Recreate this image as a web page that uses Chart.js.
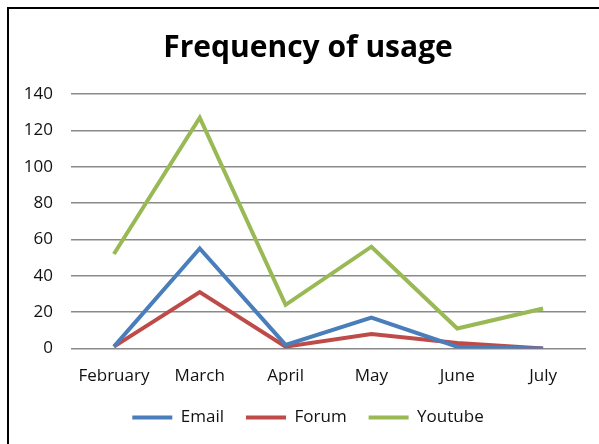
<!DOCTYPE html>
<html>
<head>
<meta charset="utf-8">
<script src="https://cdn.jsdelivr.net/npm/chart.js@4/dist/chart.umd.min.js"></script>
<style>
  html, body { margin: 0; padding: 0; background: #fff; overflow: hidden; }
  #wrap { position: relative; width: 599px; height: 444px; }
  #frame { position: absolute; left: 7px; top: 7px; width: 700px; height: 600px; border: 2px solid #000; box-sizing: border-box; }
  canvas { position: absolute; left: 0; top: 0; }
</style>
</head>
<body>
<div id="wrap">
  <div id="frame"></div>
  <canvas id="c" width="599" height="444"></canvas>
</div>
<script>
const categories = ["February", "March", "April", "May", "June", "July"];
const emailValues = [1, 55, 2, 17, 1, 0];
const forumValues = [1, 31, 1, 8, 3, 0];
const youtubeValues = [52, 127, 24, 56, 11, 22];
const yTicks = [0, 20, 40, 60, 80, 100, 120, 140];

const FONT = "'Open Sans', 'Liberation Sans', sans-serif";

// shift title and legend boxes to the right so they centre like the original
const centerShift = {
  id: 'centerShift',
  afterLayout(chart) {
    const s = 15;
    if (chart.titleBlock) { chart.titleBlock.left += s; chart.titleBlock.right += s; }
    if (chart.legend) { chart.legend.left += s; chart.legend.right += s; chart.legend.adjustHitBoxes(); }
  }
};

new Chart(document.getElementById('c'), {
  type: 'line',
  data: {
    labels: categories,
    datasets: [
      { label: 'Email', data: emailValues, borderColor: '#4A7EBB', backgroundColor: '#4A7EBB' },
      { label: 'Forum', data: forumValues, borderColor: '#BE4B48', backgroundColor: '#BE4B48' },
      { label: 'Youtube', data: youtubeValues, borderColor: '#98B954', backgroundColor: '#98B954' }
    ]
  },
  plugins: [centerShift],
  options: {
    responsive: false,
    animation: false,
    devicePixelRatio: 1,
    layout: { padding: { left: 0, right: 13, top: 0, bottom: 8 } },
    elements: {
      line: { borderWidth: 4, tension: 0, borderCapStyle: 'butt', borderJoinStyle: 'miter' },
      point: { radius: 0, hoverRadius: 0 }
    },
    plugins: {
      title: {
        display: true,
        text: 'Frequency of usage',
        color: '#000',
        font: { family: FONT, size: 30, weight: 'bold' },
        padding: { top: 30, bottom: 28 }
      },
      legend: {
        position: 'bottom',
        labels: {
          color: '#111',
          font: { family: FONT, size: 17 },
          boxWidth: 40,
          boxHeight: 4,
          padding: 22,
          generateLabels(chart) {
            return chart.data.datasets.map((ds, i) => ({
              text: ds.label,
              fillStyle: ds.borderColor,
              strokeStyle: ds.borderColor,
              lineWidth: 0,
              hidden: false,
              datasetIndex: i,
              fontColor: '#111'
            }));
          }
        }
      },
      tooltip: { enabled: false }
    },
    scales: {
      x: {
        offset: true,
        grid: { display: false, drawTicks: false },
        border: { display: false },
        ticks: { color: '#111', font: { family: FONT, size: 17 }, padding: 17, maxRotation: 0 },
        afterFit(scale) { scale.height = 38.5; }
      },
      y: {
        min: 0,
        max: 140,
        afterBuildTicks(scale) { scale.ticks = yTicks.map(v => ({ value: v })); },
        grid: { color: '#8a8a8a', lineWidth: 1.5, drawTicks: false },
        border: { display: false },
        ticks: { color: '#111', font: { family: FONT, size: 17 }, padding: 18 },
        afterFit(scale) { scale.width = 71; }
      }
    }
  }
});
</script>
</body>
</html>
